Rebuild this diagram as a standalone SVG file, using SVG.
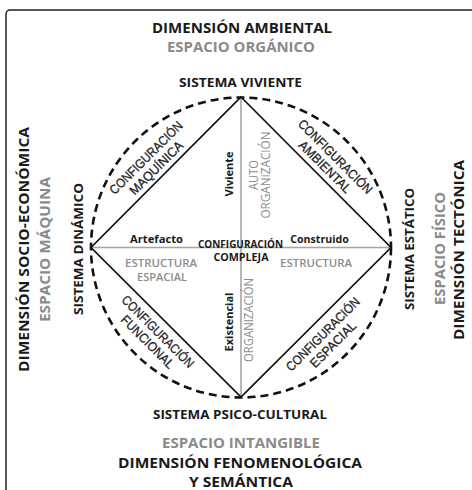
<svg xmlns="http://www.w3.org/2000/svg" width="472" height="490" viewBox="0 0 472 490">
<style>
.t{font-family:"Open Sans","Liberation Sans",sans-serif;font-weight:bold;fill:#1a1a1a;text-anchor:middle}
.g{fill:#8a8a8a}
.big{font-size:14px}
.sis{font-size:13px}
.sm{font-size:11px}
.gr{font-family:"Open Sans","Liberation Sans",sans-serif;font-weight:600;fill:#8c8c8c;text-anchor:middle;font-size:11.5px}
.gv{font-family:"Open Sans","Liberation Sans",sans-serif;font-weight:normal;fill:#8c8c8c;text-anchor:middle;font-size:12px}
.d{font-family:"Liberation Sans",Arial,sans-serif;font-size:13px;fill:#222;text-anchor:middle;stroke:#222;stroke-width:0.3}
.edge{stroke:#111;stroke-width:1.7;fill:none}
.axis{stroke:#a5a5a5;stroke-width:1.6;fill:none}
.circ{stroke:#111;stroke-width:2.6;fill:none;stroke-dasharray:8 5}
</style>
<rect x="0" y="0" width="472" height="490" fill="#fff"/>
<rect x="6" y="10" width="500" height="520" rx="4" fill="none" stroke="#222" stroke-width="1.5"/>
<g id="connectors">
<circle class="circ" cx="241" cy="247.5" r="150"/>
<line class="axis" x1="241" y1="97" x2="241" y2="397"/>
<line class="axis" x1="91" y1="247.5" x2="391" y2="247.5"/>
<path class="edge" d="M241 97 L391 247.5 L241 397 L91 247.5 Z"/>
</g>
<g id="dim-ambiental">
<text class="t big" x="242" y="33.3" textLength="180" lengthAdjust="spacingAndGlyphs">DIMENSIÓN AMBIENTAL</text>
<text class="t big g" x="241" y="51.5" textLength="148" lengthAdjust="spacingAndGlyphs">ESPACIO ORGÁNICO</text>
</g>
<g id="sistema-viviente">
<text class="t sis" x="240.5" y="87.3" textLength="123" lengthAdjust="spacingAndGlyphs">SISTEMA VIVIENTE</text>
</g>
<g id="dim-socio">
<text class="t big" transform="translate(28.5,249.5) rotate(-90)" textLength="245" lengthAdjust="spacingAndGlyphs">DIMENSIÓN SOCIO-ECONÓMICA</text>
<text class="t big g" transform="translate(50,249.5) rotate(-90)" textLength="145" lengthAdjust="spacingAndGlyphs">ESPACIO MÁQUINA</text>
</g>
<g id="sistema-dinamico">
<text class="t sis" transform="translate(83,249) rotate(-90)" textLength="132" lengthAdjust="spacingAndGlyphs">SISTEMA DINÁMICO</text>
</g>
<g id="sistema-estatico">
<text class="t sis" transform="translate(413.5,249) rotate(-90)" textLength="122" lengthAdjust="spacingAndGlyphs">SISTEMA ESTÁTICO</text>
</g>
<g id="dim-tectonica">
<text class="t big g" transform="translate(445,248.5) rotate(-90)" textLength="113" lengthAdjust="spacingAndGlyphs">ESPACIO FÍSICO</text>
<text class="t big" transform="translate(464,250) rotate(-90)" textLength="180" lengthAdjust="spacingAndGlyphs">DIMENSIÓN TECTÓNICA</text>
</g>
<g id="sistema-psico">
<text class="t sis" x="240" y="419" textLength="174" lengthAdjust="spacingAndGlyphs">SISTEMA PSICO-CULTURAL</text>
</g>
<g id="dim-fenomenologica">
<text class="t big g" x="241" y="447.5" textLength="158" lengthAdjust="spacingAndGlyphs">ESPACIO INTANGIBLE</text>
<text class="t big" x="240" y="468" textLength="244" lengthAdjust="spacingAndGlyphs">DIMENSIÓN FENOMENOLÓGICA</text>
<text class="t big" x="241" y="486.5" textLength="104" lengthAdjust="spacingAndGlyphs">Y SEMÁNTICA</text>
</g>
<g id="config-maquinica" transform="translate(151,162.7) rotate(-45)">
<text class="d" x="0" y="-2.6" textLength="97" lengthAdjust="spacingAndGlyphs">CONFIGURACIÓN</text>
<text class="d" x="0" y="11.9" textLength="70" lengthAdjust="spacingAndGlyphs">MAQUÍNICA</text>
</g>
<g id="config-ambiental" transform="translate(330.3,161.6) rotate(45)">
<text class="d" x="0" y="-2.6" textLength="99" lengthAdjust="spacingAndGlyphs">CONFIGURACIÓN</text>
<text class="d" x="0" y="11.9" textLength="68" lengthAdjust="spacingAndGlyphs">AMBIENTAL</text>
</g>
<g id="config-funcional" transform="translate(152.9,336.6) rotate(45)">
<text class="d" x="0" y="-2.6" textLength="96" lengthAdjust="spacingAndGlyphs">CONFIGURACIÓN</text>
<text class="d" x="0" y="11.9" textLength="69" lengthAdjust="spacingAndGlyphs">FUNCIONAL</text>
</g>
<g id="config-espacial" transform="translate(327.8,339.2) rotate(-45)">
<text class="d" x="0" y="-2.6" textLength="98" lengthAdjust="spacingAndGlyphs">CONFIGURACIÓN</text>
<text class="d" x="0" y="11.9" textLength="59" lengthAdjust="spacingAndGlyphs">ESPACIAL</text>
</g>
<g id="viviente">
<text class="t sm" transform="translate(233,174) rotate(-90)" textLength="45" lengthAdjust="spacingAndGlyphs">Viviente</text>
</g>
<g id="auto-organizacion">
<text class="gv" transform="translate(257.5,175) rotate(-90)" textLength="30" lengthAdjust="spacingAndGlyphs">AUTO</text>
<text class="gv" transform="translate(270,175) rotate(-90)" textLength="87" lengthAdjust="spacingAndGlyphs">ORGANIZACIÓN</text>
</g>
<g id="artefacto">
<text class="t sm" x="156.5" y="243" textLength="53" lengthAdjust="spacingAndGlyphs">Artefacto</text>
</g>
<g id="construido">
<text class="t sm" x="319.5" y="243" textLength="58.5" lengthAdjust="spacingAndGlyphs">Construido</text>
</g>
<g id="config-compleja">
<text class="t sm" x="240.5" y="247.5" textLength="85" lengthAdjust="spacingAndGlyphs">CONFIGURACIÓN</text>
<text class="t sm" x="241" y="261" textLength="55" lengthAdjust="spacingAndGlyphs">COMPLEJA</text>
</g>
<g id="estructura-espacial">
<text class="gr" x="161" y="267" textLength="72" lengthAdjust="spacingAndGlyphs">ESTRUCTURA</text>
<text class="gr" x="162" y="280.5" textLength="50" lengthAdjust="spacingAndGlyphs">ESPACIAL</text>
</g>
<g id="estructura">
<text class="gr" x="316" y="267" textLength="72" lengthAdjust="spacingAndGlyphs">ESTRUCTURA</text>
</g>
<g id="existencial">
<text class="t sm" transform="translate(233,322) rotate(-90)" textLength="59" lengthAdjust="spacingAndGlyphs">Existencial</text>
</g>
<g id="organizacion">
<text class="gv" transform="translate(252.5,320) rotate(-90)" textLength="84" lengthAdjust="spacingAndGlyphs">ORGANIZACIÓN</text>
</g>
</svg>
